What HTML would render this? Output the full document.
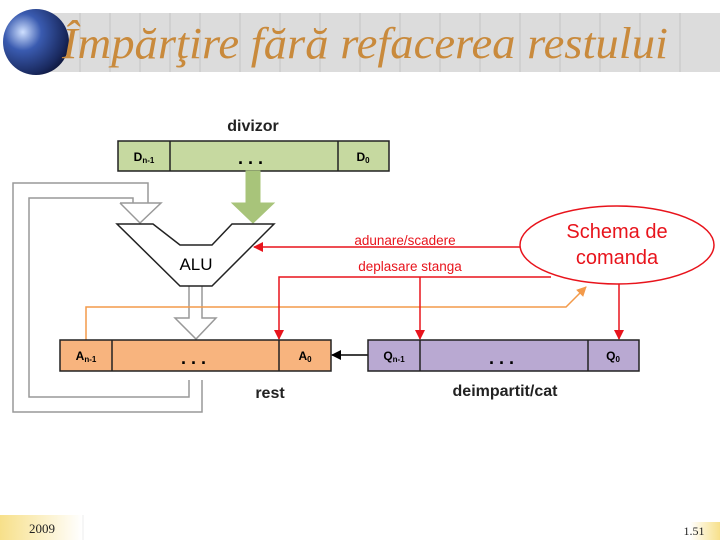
<!DOCTYPE html>
<html><head><meta charset="utf-8"><style>
body{margin:0;width:720px;height:540px;background:#fff;overflow:hidden;position:relative;font-family:"Liberation Sans",sans-serif}
</style></head><body>
<svg width="720" height="540" viewBox="0 0 720 540" style="position:absolute;left:0;top:0">
<defs>
<radialGradient id="g" cx="0.3" cy="0.35" r="0.8"><stop offset="0" stop-color="#cfe0ff"/><stop offset="0.35" stop-color="#3a5bb0"/><stop offset="0.8" stop-color="#1a2a60"/><stop offset="1" stop-color="#0a1030"/></radialGradient>
<linearGradient id="fy" x1="0" x2="1"><stop offset="0" stop-color="#f7e08a"/><stop offset="1" stop-color="#fff"/></linearGradient>
<linearGradient id="fy2" x1="1" x2="0"><stop offset="0" stop-color="#f7e08a"/><stop offset="1" stop-color="#fff"/></linearGradient>
<marker id="ar" markerWidth="10" markerHeight="10" refX="9" refY="5" orient="auto" markerUnits="userSpaceOnUse"><path d="M0,0 L10,5 L0,10 Z" fill="#e8141c"/></marker>
<marker id="ab" markerWidth="10" markerHeight="10" refX="9" refY="5" orient="auto" markerUnits="userSpaceOnUse"><path d="M0,0 L10,5 L0,10 Z" fill="#000"/></marker>
<marker id="ao" markerWidth="10" markerHeight="10" refX="9" refY="5" orient="auto" markerUnits="userSpaceOnUse"><path d="M0,0 L10,5 L0,10 Z" fill="#f39a4a"/></marker>
</defs>
<rect x="50" y="13" width="670" height="59" fill="#dcdcdc"/>
<g stroke="#c4c4c4" stroke-width="1">
<line x1="80" y1="13" x2="80" y2="72"/><line x1="110" y1="13" x2="110" y2="72"/><line x1="140" y1="13" x2="140" y2="72"/><line x1="170" y1="13" x2="170" y2="72"/><line x1="200" y1="13" x2="200" y2="72"/><line x1="240" y1="13" x2="240" y2="72"/><line x1="280" y1="13" x2="280" y2="72"/><line x1="320" y1="13" x2="320" y2="72"/><line x1="360" y1="13" x2="360" y2="72"/><line x1="400" y1="13" x2="400" y2="72"/><line x1="440" y1="13" x2="440" y2="72"/><line x1="480" y1="13" x2="480" y2="72"/><line x1="520" y1="13" x2="520" y2="72"/><line x1="560" y1="13" x2="560" y2="72"/><line x1="600" y1="13" x2="600" y2="72"/><line x1="640" y1="13" x2="640" y2="72"/><line x1="680" y1="13" x2="680" y2="72"/>
</g>
<ellipse cx="36" cy="42" rx="33" ry="33" fill="url(#g)"/>
<text x="62" y="58" font-family="Liberation Serif,serif" font-style="italic" font-size="44" fill="#c98a3c" textLength="606" lengthAdjust="spacingAndGlyphs">Împărţire fără refacerea restului</text>

<text x="253" y="131" font-size="16" font-weight="bold" text-anchor="middle" fill="#222">divizor</text>
<rect x="118" y="141" width="271" height="30" fill="#c6d9a0" stroke="#222" stroke-width="1.5"/>
<line x1="170" y1="141" x2="170" y2="171" stroke="#222" stroke-width="1.5"/><line x1="338" y1="141" x2="338" y2="171" stroke="#222" stroke-width="1.5"/>
<text x="144" y="161" font-size="12" font-weight="bold" text-anchor="middle">D<tspan font-size="8" dy="2">n-1</tspan></text>
<text x="363" y="161" font-size="12" font-weight="bold" text-anchor="middle">D<tspan font-size="8" dy="2">0</tspan></text>
<text x="253" y="164" font-size="18" font-weight="bold" text-anchor="middle" letter-spacing="5">...</text>

<polygon points="246,171 260,171 260,203 274,203 253,223 232,203 246,203" fill="#a8c47a" stroke="#a8c47a"/>
<g fill="none" stroke="#999" stroke-width="1.5">
<polyline points="202,380 202,412 13,412 13,183 148,183 148,203"/>
<polyline points="189,380 189,397 29,397 29,198 133,198 133,203"/>
<polyline points="120,203 161,203 140,223 120,203"/>
<polyline points="189,286 189,318 175,318 196,339 216,318 202,318 202,286"/>
</g>
<polygon points="117,224 153,224 180,245 212,245 232,224 274,224 212,286 180,286" fill="#fff" stroke="#222" stroke-width="1.5"/>
<text x="196" y="270" font-size="17" text-anchor="middle">ALU</text>

<polyline points="86,340 86,307 566,307 586,287" fill="none" stroke="#f39a4a" stroke-width="1.5" marker-end="url(#ao)"/>
<g stroke="#e8141c" stroke-width="1.5" fill="none">
<line x1="520" y1="247" x2="254" y2="247" marker-end="url(#ar)"/>
<polyline points="551,277 279,277 279,339" marker-end="url(#ar)"/>
<line x1="420" y1="277" x2="420" y2="339" marker-end="url(#ar)"/>
<line x1="619" y1="284" x2="619" y2="339" marker-end="url(#ar)"/>
</g>
<text x="405" y="245" font-size="13.5" fill="#e8141c" text-anchor="middle">adunare/scadere</text>
<text x="410" y="271" font-size="13.5" fill="#e8141c" text-anchor="middle">deplasare stanga</text>
<ellipse cx="617" cy="245" rx="97" ry="39" fill="#fff" stroke="#e8141c" stroke-width="1.5"/>
<text x="617" y="238" font-size="20" fill="#e8141c" text-anchor="middle">Schema de</text>
<text x="617" y="264" font-size="20" fill="#e8141c" text-anchor="middle">comanda</text>

<rect x="60" y="340" width="271" height="31" fill="#f8b47e" stroke="#222" stroke-width="1.5"/>
<line x1="112" y1="340" x2="112" y2="371" stroke="#222" stroke-width="1.5"/><line x1="279" y1="340" x2="279" y2="371" stroke="#222" stroke-width="1.5"/>
<text x="86" y="360" font-size="12" font-weight="bold" text-anchor="middle">A<tspan font-size="8" dy="2">n-1</tspan></text>
<text x="305" y="360" font-size="12" font-weight="bold" text-anchor="middle">A<tspan font-size="8" dy="2">0</tspan></text>
<text x="196" y="364" font-size="18" font-weight="bold" text-anchor="middle" letter-spacing="5">...</text>
<text x="270" y="398" font-size="16" font-weight="bold" text-anchor="middle" fill="#222">rest</text>

<line x1="368" y1="355" x2="332" y2="355" stroke="#000" stroke-width="1.5" marker-end="url(#ab)"/>
<rect x="368" y="340" width="271" height="31" fill="#b9a9d2" stroke="#222" stroke-width="1.5"/>
<line x1="420" y1="340" x2="420" y2="371" stroke="#222" stroke-width="1.5"/><line x1="588" y1="340" x2="588" y2="371" stroke="#222" stroke-width="1.5"/>
<text x="394" y="360" font-size="12" font-weight="bold" text-anchor="middle">Q<tspan font-size="8" dy="2">n-1</tspan></text>
<text x="613" y="360" font-size="12" font-weight="bold" text-anchor="middle">Q<tspan font-size="8" dy="2">0</tspan></text>
<text x="504" y="364" font-size="18" font-weight="bold" text-anchor="middle" letter-spacing="5">...</text>
<text x="505" y="396" font-size="16" font-weight="bold" text-anchor="middle" fill="#222">deimpartit/cat</text>

<rect x="0" y="515" width="82" height="25" fill="url(#fy)"/>
<line x1="83" y1="515" x2="83" y2="540" stroke="#eee"/>
<text x="42" y="533" font-family="Liberation Serif,serif" font-size="13" text-anchor="middle" fill="#222">2009</text>
<rect x="690" y="522" width="30" height="18" fill="url(#fy2)"/>
<text x="694" y="535" font-family="Liberation Serif,serif" font-size="12" text-anchor="middle" fill="#222">1.51</text>
</svg>
</body></html>
